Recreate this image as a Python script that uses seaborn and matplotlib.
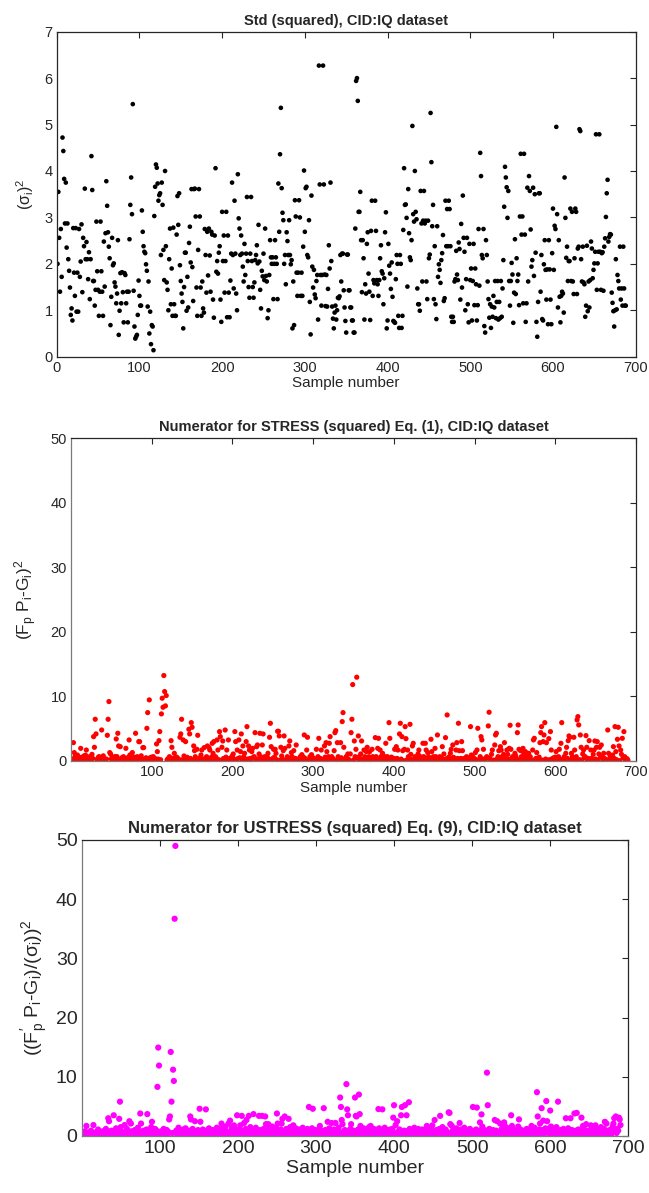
import numpy as np
import pandas as pd
import matplotlib
matplotlib.use("Agg")
import matplotlib.pyplot as plt
import seaborn as sns

# ---------------- data ----------------
# Panel 1: std squared, blocks in sample order
std_sq_a = [2.0, 3.55, 2.56, 1.40, 2.75, 1.72, 4.72, 4.43, 3.83, 2.87,
            3.75, 2.35, 2.87, 2.1, 1.85, 1.49, 0.9, 1.04, 0.78, 2.77,
            1.81, 1.31, 2.77, 0.97, 1.81, 0.97, 2.75, 1.72, 2.05, 2.85,
            1.39, 2.56, 2.38, 3.62, 2.1, 2.47, 2.1, 1.67, 2.25, 1.24,
            2.1, 4.32, 3.59, 1.63, 1.63, 1.1, 1.44, 2.91, 1.84, 1.44,
            0.88, 1.4, 2.91, 1.84, 1.4, 0.88, 2.48, 1.51, 2.66, 3.78,
            3.25, 2.68, 2.37, 2.12, 0.68, 1.29, 2.56, 1.97, 2.01, 1.6,
            1.51, 1.15, 1.36, 2.51, 0.47, 0.99, 1.8, 1.15, 1.82, 1.39,
            0.74, 1.8, 1.76, 1.15, 1.4, 0.74, 1.4, 2.53, 3.27, 3.86,
            3.07, 5.44, 1.42, 0.65, 0.39, 0.43, 0.47, 0.9, 1.64, 1.31]
std_sq_b = [1.1, 1.1, 3.15, 2.69, 2.38, 2.26, 2.23, 1.99, 1.85, 1.08,
            1.62, 0.5, 0.97, 0.27, 0.68, 0.65, 0.14, 3.03, 3.66, 4.14,
            4.07, 3.73, 3.36, 3.48, 3.52, 2.19, 3.75, 3.27, 2.3, 1.65,
            4.0, 2.38, 1.6, 1.44, 1.0, 2.1, 2.76, 1.13, 1.9, 0.88,
            2.78, 1.13, 0.88, 0.88, 2.63, 3.46, 2.84, 3.52, 1.97, 1.63,
            1.36, 1.18, 0.61, 1.5, 2.24, 2.24, 0.99, 1.72, 1.06, 2.45,
            2.8, 2.03, 3.61, 1.93, 1.2, 3.61, 3.62, 3.02, 1.49, 0.88,
            2.3, 3.61, 3.02, 1.49, 0.88, 1.62, 1.04, 0.95, 2.75, 2.19,
            1.38, 2.69, 1.75, 2.76, 2.18]
std_sq_c = [1.4, 2.69, 2.63, 1.23, 0.84, 2.61, 4.06, 1.83,
            2.06, 1.79, 2.24, 2.38, 1.23, 0.75, 3.12, 2.06, 2.61, 1.38,
            2.06, 3.12, 0.85, 2.61, 1.38, 0.85, 1.64, 2.22, 3.75, 2.19,
            1.47, 3.36, 2.22, 1.36, 1.0, 3.93, 2.98, 2.76, 2.19, 2.61,
            2.22, 1.94, 1.62, 2.43, 1.76, 2.22, 3.44, 2.06, 1.5, 1.27,
            2.22, 3.44, 2.06, 1.5, 1.27, 1.6, 2.08, 2.19, 2.4, 2.01,
            2.84, 2.05, 1.44, 1.04, 1.85, 1.73, 2.22, 1.65, 2.76, 1.74,
            1.62, 0.83, 1.0, 1.76, 2.51, 2.14, 2.0, 2.14, 1.24, 2.0,
            2.51, 2.14, 2.0, 1.24, 3.73, 2.69, 4.36, 5.36, 3.63, 3.1,
            2.94, 2.0, 2.19, 1.56, 2.68, 2.49, 2.19, 2.94, 2.19, 1.99, 2.08,
            0.61, 1.62, 0.68, 3.37, 3.02, 1.81, 1.31, 1.81, 3.37, 3.0,
            1.31, 1.81, 1.31, 2.37, 4.01, 2.69, 3.63, 3.66, 2.19, 2.14,
            2.94, 1.18, 0.48, 3.47, 1.94, 1.49, 1.87, 1.34, 1.26, 1.63,
            1.76, 0.8, 6.27, 3.71, 1.76, 1.1, 1.76, 6.27, 3.71, 1.77,
            1.09, 1.76, 1.08, 1.46, 2.4, 1.9, 3.75, 2.06, 1.08, 0.82,
            0.61, 0.95, 1.1, 0.8, 1.0, 1.27, 1.26, 1.3, 2.19, 1.62, 2.22,
            2.22, 1.43, 1.06, 0.77, 0.52]
std_sq_d = [2.2, 2.2, 1.43, 1.43, 1.06, 1.06, 0.78, 0.78, 0.52, 0.52,
            2.76, 5.94, 6.0, 5.51, 3.12, 3.12, 3.55, 2.51, 1.39, 2.51,
            2.12, 0.8, 1.56, 1.36, 2.43, 2.68, 1.79, 1.4, 0.79, 2.71,
            3.36, 1.31, 1.65, 1.58, 3.36, 2.71, 1.65, 1.56, 1.31, 1.65,
            2.12, 2.4, 1.84, 1.79, 1.13, 1.69, 2.68, 3.11, 0.61, 0.78,
            2.43, 1.96, 1.79, 1.46, 2.03, 1.29, 0.77, 0.75, 0.73, 1.67,
            2.19, 2.0, 0.88, 0.62, 2.19, 2.0, 0.62, 0.88, 2.73, 4.06,
            3.27, 3.28, 2.99, 1.51, 3.61, 2.66, 2.14, 2.08, 2.51, 4.97,
            3.07, 2.91, 4.0, 3.12, 2.96, 1.47, 1.13, 1.13, 0.99, 3.57,
            2.87, 1.62, 2.93, 3.57, 2.87, 2.93, 1.62, 1.24, 2.93, 2.12,
            2.2, 5.25, 4.19, 2.81, 3.27, 1.24, 2.38, 1.13, 0.81, 2.81,
            1.72, 1.99, 1.87, 1.59, 2.08, 2.23, 2.62, 1.2, 1.26, 3.36,
            2.38, 3.18, 2.38, 3.36, 3.18, 2.38, 0.86, 0.75, 0.86, 0.75,
            1.62, 1.67, 2.28, 1.77, 1.65, 2.46, 2.32, 1.23, 2.86, 1.49,
            3.47, 2.56, 2.26, 1.0, 1.67, 2.56, 1.13, 0.74, 2.43, 1.65,
            1.9, 0.78, 1.63, 2.43, 1.11, 1.9, 1.56, 0.78, 1.11, 2.75,
            1.53, 4.39, 3.89, 2.19, 2.12, 2.75, 0.66, 0.52, 2.51, 2.19,
            1.62, 1.24, 0.84, 1.13, 0.62, 1.08]
std_sq_e = [0.86, 1.31, 1.06, 1.63, 0.83, 1.18, 1.63, 0.8, 1.18,
            0.83, 1.63, 0.86, 1.47, 2.08, 3.23, 4.09, 3.86, 3.65,
            2.99, 3.57, 1.63, 1.1, 1.63, 2.02, 1.77, 0.73, 1.38,
            2.53, 1.35, 2.12, 1.63, 1.77, 1.11, 3.02, 4.37, 2.63,
            3.02, 1.15, 4.37, 2.63, 0.75, 1.15, 3.64, 1.62, 3.89,
            3.57, 2.74, 1.94, 2.08, 3.64, 1.74, 3.5, 2.24, 0.75,
            0.43, 1.18, 3.52, 3.52, 1.4, 2.19, 0.81, 0.78, 1.99,
            2.51, 1.87, 1.23, 1.88, 0.7, 2.51, 1.88, 1.23, 0.7,
            2.23, 3.19, 1.87, 2.82, 2.75, 4.95, 3.07, 1.06, 2.51,
            1.29, 0.74, 1.31, 1.4, 1.36, 0.95, 3.86, 2.99, 2.13,
            2.37, 1.63, 2.06, 2.06, 3.19, 1.63, 3.12, 1.62, 1.35,
            2.12, 3.19, 3.12, 1.35, 2.33, 2.37, 4.9, 4.86, 2.1,
            1.62, 2.37, 1.6, 1.56, 0.86, 1.1, 2.39, 0.98, 1.62,
            1.06, 1.65, 2.48, 2.33, 1.69, 1.87, 2.01, 2.26, 4.79,
            1.44, 2.01, 2.26, 4.79, 2.26, 1.44, 2.23, 2.25, 1.42,
            2.37, 2.55, 3.01, 3.52, 3.81, 2.48, 2.58, 2.64, 2.63,
            1.38, 1.16, 0.98, 0.65, 1.0, 2.1, 1.02, 1.76, 1.63,
            1.47, 2.37, 1.23, 1.47, 1.1, 2.37, 1.47, 1.1, 1.1]

# Panel 2: numerator for STRESS (squared)
stress_1 = [0.1, 0.3, 2.84, 1.3, 0.67, 0.4, 0.1, 0.93, 0.15, 0.5, 0.2,
            1.96, 0.57, 0.2, 0.05, 0.78, 0.4, 0.9, 1.7, 0.1, 0.3, 0.45,
            0.67, 0.2, 0.05, 1.03, 0.4, 3.77, 2.12, 6.46, 4.19, 0.25, 0.1,
            0.6, 0.67, 0.35, 0.1, 4.8, 0.25, 0.8, 0.4, 0.25, 0.1, 0.3,
            3.98, 6.46, 9.2, 1.3, 1.09, 0.3, 0.67, 0.35, 0.05, 0.15, 0.7,
            3.41, 0.67, 4.29, 2.33, 0.2, 2.22, 0.15, 0.5, 0.35, 0.67, 0.2,
            0.1, 1.96, 0.15, 0.4, 0.57, 3.26, 0.93, 0.2, 0.35, 1.3, 0.05,
            0.6, 0.15, 4.29, 0.3, 0.67, 0.1, 3.0, 3.0, 0.4, 0.8, 0.25,
            2.07, 2.07, 0.25, 0.1, 0.5, 5.06, 7.49, 0.3, 9.46, 0.5, 0.15, 0.6]
stress_2 = [0.5, 0.67, 0.15, 0.4, 0.1, 2.64, 1.45, 0.3, 3.15, 4.55,
            0.2, 7.29, 9.72, 8.32, 13.23, 10.75, 8.53, 10.13, 0.15, 0.35,
            0.05, 0.67, 0.3, 3.15, 2.12, 0.4, 0.1, 1.19, 0.5, 0.15,
            0.6, 0.25, 0.35, 0.1, 3.67, 4.19, 6.46, 0.2, 3.26, 0.78,
            0.3, 3.0, 0.25, 0.57, 0.1, 4.91, 4.19, 0.4, 5.94, 5.22,
            0.15, 2.33, 1.6, 0.67, 0.3, 1.81, 3.98, 0.15, 0.15, 0.5,
            0.93, 1.7, 0.2, 0.15, 2.07, 0.4, 0.05, 0.67, 2.33, 0.3,
            2.07, 1.7, 0.15, 0.6, 2.74, 1.19, 3.0, 0.1, 0.67, 0.45,
            3.26, 1.7, 0.2, 4.55, 3.77, 0.1, 2.12, 3.1, 0.4, 0.25,
            4.8, 0.6, 1.7, 0.1, 3.26, 0.35, 0.05, 0.5, 0.2, 0.8]
stress_3 = [1.09, 0.3, 4.55, 3.0, 0.1, 1.7, 0.4, 3.26, 0.5, 1.45,
            4.19, 0.2, 2.33, 0.67, 1.19, 0.05, 3.0, 5.32, 0.3, 2.33,
            1.7, 0.4, 0.15, 1.45, 1.96, 0.6, 0.67, 4.39, 0.1, 2.22,
            2.48, 0.35, 1.09,
            4.29, 0.67, 0.2, 2.48, 4.19, 0.1, 0.67, 0.15, 0.4, 0.67,
            1.19, 0.3, 3.67, 5.84, 2.22, 0.05, 0.4, 1.81, 0.6, 1.81,
            1.19, 0.2, 4.6, 4.6, 3.88, 0.1, 2.12, 0.78, 0.35, 1.6,
            3.88, 1.96, 0.05, 0.15, 0.67, 0.5, 2.33, 3.1, 0.2, 1.3,
            0.67, 0.1, 1.6, 0.15, 0.4, 2.48, 0.05, 0.15, 0.3, 0.25,
            0.67, 0.1, 0.98, 0.15, 0.6, 4.03, 0.4, 0.2, 1.7, 3.67,
            0.05, 0.15, 0.67, 0.3, 0.98, 0.1, 0.5]
stress_4 = [0.15, 0.3, 0.25, 1.81, 0.1, 0.67, 3.51, 0.15, 0.4, 1.7,
            0.25, 0.05, 0.15, 2.33, 0.6, 2.84, 1.45, 0.2, 0.67, 2.74,
            3.77, 0.1, 0.67, 0.15, 0.35, 1.6, 4.39, 4.7, 0.05, 2.84,
            0.67, 0.2, 0.15, 2.84, 0.5, 6.1, 7.49, 2.12, 0.1, 0.25,
            0.67, 0.3, 1.09, 0.25, 0.05, 1.09, 4.39, 6.46, 11.83, 0.15,
            3.1, 0.67, 1.81, 12.97, 0.4, 3.88, 0.67, 0.1, 1.09, 3.1,
            0.25, 0.2, 1.7, 0.67, 0.05, 1.45, 2.12, 0.3, 0.67, 1.45,
            0.15, 0.1, 1.81, 0.67, 0.25, 0.5, 3.62, 0.67, 0.15, 1.96,
            3.51, 0.3, 1.7, 0.67, 0.05, 1.19, 0.15, 0.2, 0.67, 2.74,
            0.1, 0.67, 0.35, 5.94, 3.51, 0.15, 0.6, 0.25, 0.05, 0.4]
stress_5 = [1.81, 0.2, 2.22, 0.4, 1.7, 0.1, 4.19, 5.84, 0.3, 3.77,
            1.6, 0.05, 1.81, 5.32, 3.46, 0.15, 1.7, 0.67, 0.4, 5.68,
            1.03, 0.2, 2.33, 2.74, 0.05, 0.67, 0.25, 0.15, 0.5, 1.09,
            1.7, 0.1, 0.67, 0.25, 0.3, 2.74, 0.67, 0.05, 2.74, 1.7,
            0.2, 1.3, 0.67, 0.1, 0.25, 3.36, 1.45, 0.4, 0.67, 0.15,
            1.96, 0.67, 0.3, 4.03, 0.15, 0.05, 0.67, 0.25, 0.5, 2.22,
            0.1, 1.09, 0.2, 3.62, 0.35, 7.13, 0.05, 0.6, 0.15,
            1.19, 1.81, 0.3, 2.48, 0.57, 0.15, 0.1, 1.7, 2.84, 0.4,
            5.84, 1.6, 0.2, 0.4, 3.0, 1.6, 0.05, 0.4, 0.25, 0.3,
            0.67, 0.15, 0.5, 0.25, 0.1, 5.32, 0.93, 0.2, 0.6, 0.15, 0.35]
stress_6 = [1.3, 0.2, 1.7, 5.06, 0.15, 0.05, 0.67, 3.77, 3.26, 0.3,
            1.81, 0.25, 0.1, 0.4, 0.67, 0.5, 5.43, 7.55, 0.4, 0.15,
            1.03, 1.7, 0.05, 0.15, 2.48, 4.03, 4.29, 0.3, 0.67, 1.6,
            0.1, 2.22, 1.7, 0.67, 0.2, 1.03, 2.84, 0.4, 0.05, 1.7,
            1.03, 0.3, 1.96, 5.53, 1.81, 0.15, 0.67, 0.25, 0.1, 1.19,
            0.78, 0.4, 4.39, 5.58, 1.81, 0.05, 1.6, 0.67, 0.2, 1.96,
            1.09, 0.3, 1.45, 0.67, 0.1, 0.25, 1.19, 0.5, 0.67, 0.15,
            0.05, 1.7, 3.26, 3.51, 0.2, 0.4, 1.3, 0.1, 0.25, 0.6,
            2.84, 4.39, 5.32, 0.15, 3.0, 4.03, 5.94, 0.3, 2.84, 0.15,
            0.05, 3.46, 0.2, 4.55, 1.7, 0.35, 0.1, 0.5, 0.25, 0.6]
stress_7 = [1.45, 0.25, 0.1, 0.67, 1.81, 0.3, 2.74, 5.94, 0.05, 0.25,
            0.67, 0.2, 1.19, 2.12, 0.4, 3.15, 3.88, 3.67, 0.1, 1.19,
            0.67, 0.3, 3.67, 1.7, 0.05, 0.67, 6.36, 6.87, 5.58, 0.2,
            4.03, 2.12, 0.15, 1.09, 1.7, 0.5, 0.67, 3.93, 2.12, 0.1,
            0.4, 3.15, 0.25, 1.7, 0.4, 0.05, 1.03, 1.7, 3.1, 0.3,
            2.12, 3.0, 0.15, 1.09, 2.12, 0.6, 2.48, 0.67, 0.1, 1.19,
            0.4, 0.25, 0.15, 0.05, 4.8, 1.19, 0.3, 0.67, 0.25, 0.1,
            0.93, 2.22, 0.4, 5.32, 1.45, 0.2, 3.36, 5.22, 2.33, 0.05,
            1.7, 1.03, 3.51, 0.5, 4.55, 0.67, 0.15, 0.25, 0.35, 0.1]

# Panel 3: numerator for USTRESS (squared)
ustress_1 = [0.2, 0.5, 0.1, 0.8, 0.3, 1.7, 0.4, 0.1, 0.6, 0.2,
             0.3, 0.9, 0.1, 0.4, 1.85, 0.2, 0.5, 0.1, 0.7, 0.3,
             1.1, 0.2, 0.4, 0.1, 0.6, 0.3, 0.8, 0.2, 0.1, 0.5,
             1.2, 0.3, 0.6, 3.0, 2.5, 0.2, 0.4, 0.9, 0.1, 0.3,
             3.5, 0.6, 0.2, 1.3, 0.4, 0.1, 0.8, 2.9, 5.8, 1.5,
             0.3, 0.7, 0.2, 0.5, 1.85, 0.1, 0.4, 1.2, 0.6, 0.3,
             2.5, 0.2, 2.1, 0.8, 0.1, 0.5, 0.3, 1.0, 0.2, 0.6,
             0.4, 1.4, 0.1, 0.7, 3.8, 2.1, 0.3, 0.5, 0.9, 0.2,
             0.6, 0.1, 1.1, 3.7, 0.4, 0.3, 0.8, 0.2, 1.5, 2.4,
             0.5, 0.7, 0.1, 1.2, 0.3, 0.9, 8.3, 14.94, 11.9, 0.4]
ustress_2 = [0.3, 0.8, 0.1, 0.5, 1.2, 0.2, 0.6, 0.4, 1.0, 0.1,
             0.7, 2.8, 3.3, 14.2, 5.8, 0.5, 11.2, 9.3, 36.7, 49.0,
             0.9, 0.3, 0.1, 1.4, 0.6, 0.2, 0.8, 0.4, 0.1, 1.1,
             0.3, 0.5, 1.3, 0.2, 0.7, 0.1, 0.9, 0.4, 3.3, 2.8,
             0.6, 1.2, 0.2, 0.5, 2.5, 0.3, 0.8, 0.1, 1.0, 0.4,
             4.6, 2.4, 0.3, 0.7, 1.1, 0.2, 0.5, 0.9, 4.5, 0.1,
             0.6, 0.3, 1.3, 0.2, 0.8, 0.4, 0.1, 1.0, 0.5, 0.3,
             0.7, 0.2, 1.4, 0.6, 0.1, 0.9, 0.4, 1.2, 2.1, 0.3,
             0.5, 1.0, 0.2, 1.6, 0.8, 0.1, 0.4, 2.1, 0.6, 2.6,
             0.3, 1.3, 0.2, 0.7, 1.8, 0.5, 0.1, 1.1, 3.5, 0.4]
ustress_3 = [0.4, 1.0, 1.8, 0.2, 3.4, 0.6, 0.9, 2.2, 0.3, 1.2,
             2.7, 0.5, 0.1, 3.4, 0.8, 1.5, 0.3, 0.7, 1.1, 3.7,
             0.2, 0.6, 1.4, 0.4, 0.9, 0.1, 3.4, 1.0, 0.5, 0.3,
             3.4, 0.8, 1.2, 0.2, 3.3, 2.0, 0.6, 0.4, 2.0, 1.3,
             0.2, 0.9, 0.5, 1.6, 0.1, 0.7, 1.0, 0.3, 1.4, 3.8,
             2.1, 0.4, 0.8, 0.2, 1.1, 2.1, 2.9, 0.5, 0.6, 3.3,
             0.3, 1.2, 0.1, 0.9, 2.9, 0.4, 1.5, 0.2, 0.7, 1.0,
             1.8, 0.3, 0.6, 1.3, 0.2, 0.8, 0.4, 1.1, 0.1, 0.5,
             0.9, 0.3, 1.4, 0.2, 0.7, 1.0, 0.4, 0.6, 1.2, 0.2,
             4.9, 0.5, 0.8, 0.3, 1.3, 4.6, 0.1, 0.6, 1.0, 0.4]
ustress_4 = [0.3, 0.8, 0.2, 1.2, 1.7, 0.5, 0.1, 0.9, 0.4, 4.7,
             0.6, 1.0, 0.2, 0.7, 2.4, 0.3, 1.3, 0.1, 0.5, 2.2,
             0.8, 0.4, 1.1, 0.2, 2.2, 0.6, 0.9, 0.3, 1.4, 0.5,
             6.5, 4.9, 2.7, 2.0, 0.7, 0.2, 1.0, 0.4, 8.76, 4.5,
             3.5, 0.3, 0.8, 1.2, 2.0, 0.1, 0.6, 0.9, 0.4, 6.5,
             3.4, 3.3, 0.2, 1.1, 7.0, 3.7, 1.7, 0.5, 0.3, 0.8,
             1.3, 0.1, 0.6, 0.4, 1.0, 0.2, 0.7, 1.5, 0.3, 1.7,
             0.5, 0.9, 0.2, 1.2, 0.4, 0.1, 0.8, 0.6, 1.1, 4.55,
             1.3, 0.3, 0.7, 0.2, 4.5, 0.9, 0.4, 1.4, 0.1, 0.6,
             0.3, 1.0, 0.5, 0.2, 1.1, 0.8, 0.4, 1.2, 3.1, 5.2]
ustress_5 = [0.4, 1.85, 0.2, 2.5, 0.7, 0.3, 1.1, 0.5, 3.5, 4.9,
             0.6, 0.2, 0.9, 5.2, 0.4, 3.5, 0.8, 0.1, 5.7, 1.2,
             0.3, 0.6, 1.0, 0.2, 0.5, 1.4, 0.1, 0.7, 0.3, 0.9,
             1.2, 0.4, 0.2, 0.8, 0.5, 1.1, 0.1, 0.6, 0.3, 1.0,
             0.4, 1.7, 0.2, 0.9, 0.6, 0.3, 1.3, 0.1, 1.8, 0.5,
             0.7, 2.7, 0.2, 1.0, 0.4, 0.8, 0.1, 1.2, 3.4, 0.3,
             0.6, 1.5, 0.2, 0.9, 0.4, 1.1, 0.3, 0.7, 0.5, 4.0,
             3.9, 2.0, 0.3, 1.7, 0.8, 0.1, 1.0, 0.5, 0.2, 1.3,
             0.6, 0.4, 0.9, 2.2, 0.3, 1.1, 0.1, 0.7, 0.5, 1.4,
             0.2, 0.8, 0.4, 1.0, 0.3, 0.6, 1.2, 0.1, 0.5, 0.9]
ustress_6 = [4.9, 0.3, 0.8, 0.2, 1.1, 4.8, 0.5, 0.1, 0.9, 2.3,
             0.4, 3.65, 1.6, 0.7, 0.2, 1.0, 0.3, 0.6, 10.7, 5.2,
             0.4, 1.2, 0.1, 0.8, 0.3, 0.6, 1.0, 0.2, 2.7, 0.5,
             0.9, 2.5, 0.3, 0.1, 0.7, 2.1, 0.4, 1.2, 0.2, 0.6,
             2.3, 1.7, 0.5, 0.9, 0.1, 0.4, 1.3, 0.3, 0.8, 3.5,
             1.7, 0.2, 0.6, 1.0, 0.4, 0.1, 0.7, 0.3, 1.6, 2.8,
             0.5, 1.1, 0.2, 0.8, 0.4, 0.1, 0.9, 0.6, 0.3, 1.2,
             0.5, 0.2, 1.0, 0.7, 0.4, 1.7, 0.3, 0.9, 0.6, 1.4,
             0.2, 0.8, 7.4, 3.3, 0.5, 1.1, 2.1, 0.4, 4.7, 1.0,
             2.6, 0.3, 0.7, 1.3, 5.9, 2.5, 0.6, 1.2, 0.4, 4.3]
ustress_7 = [1.6, 0.4, 0.9, 0.2, 1.1, 0.6, 0.3, 1.5, 0.8, 5.8,
             0.5, 0.2, 1.0, 0.4, 0.7, 0.1, 1.2, 0.3, 0.9, 3.0,
             0.6, 0.2, 1.3, 0.5, 0.8, 3.0, 0.3, 1.0, 0.4, 0.6,
             3.8, 0.2, 0.9, 3.9, 0.5, 1.1, 0.3, 0.7, 0.4, 3.1,
             0.8, 1.7, 0.2, 0.6, 1.0, 2.0, 0.4, 0.1, 0.9, 0.3,
             0.7, 1.8, 0.5, 0.2, 1.1, 0.4, 0.8, 1.8, 0.3, 0.6,
             1.0, 0.2, 0.5, 0.9, 1.5, 0.4, 0.7, 0.1, 1.2, 2.4,
             0.6, 2.1, 0.3, 0.8, 0.5, 1.0, 0.2, 0.7, 0.4, 1.6,
             2.1, 3.0, 0.8, 3.3, 0.5, 1.2, 0.9, 3.1, 2.8, 1.85]

x_ticks_top = [0, 100, 200, 300, 400, 500, 600, 700]
x_ticks_low = [100, 200, 300, 400, 500, 600, 700]
y_ticks_top = [0, 1, 2, 3, 4, 5, 6, 7]
y_ticks_low = [0, 10, 20, 30, 40, 50]

# ---------------- style ----------------
sns.set_theme(style="white")
plt.rcParams['font.family'] = ['Liberation Sans', 'DejaVu Sans']
plt.rcParams['mathtext.fontset'] = 'custom'
plt.rcParams['mathtext.rm'] = 'Liberation Sans'
plt.rcParams['mathtext.it'] = 'Liberation Sans'
plt.rcParams['mathtext.bf'] = 'Liberation Sans:bold'


def frame(blocks):
    v = np.concatenate([np.asarray(b, dtype=float) for b in blocks])
    return pd.DataFrame({"sample": np.arange(1, len(v) + 1), "value": v})


std_df = frame([std_sq_a, std_sq_b, std_sq_c, std_sq_d, std_sq_e])
stress_df = frame([stress_1, stress_2, stress_3, stress_4, stress_5, stress_6, stress_7])
ustress_df = frame([ustress_1, ustress_2, ustress_3, ustress_4, ustress_5, ustress_6, ustress_7])

W, H = 649, 1193
fig = plt.figure(figsize=(W / 100, H / 100), dpi=100)


def add_ax(left, top, right, bottom):
    return fig.add_axes([left / W, 1 - bottom / H, (right - left) / W, (bottom - top) / H])


def style_axes(ax, fs, spine_tr='#262626', spine_lb='#262626'):
    ax.tick_params(direction='in', top=True, right=True, length=4, width=0.8,
                   labelsize=fs, colors='#262626', pad=3)
    for side in ['top', 'right']:
        ax.spines[side].set_color(spine_tr)
        ax.spines[side].set_linewidth(0.9)
    for side in ['left', 'bottom']:
        ax.spines[side].set_color(spine_lb)
        ax.spines[side].set_linewidth(0.9)
    ax.grid(False)


# Panel 1
ax1 = add_ax(56.7, 31.7, 635.7, 356.7)
sns.scatterplot(data=std_df, x="sample", y="value", ax=ax1, color='black',
                s=11, linewidth=0, edgecolor='none')
ax1.set_xlim(0, 700)
ax1.set_ylim(0, 7)
ax1.set_xticks(x_ticks_top)
ax1.set_yticks(y_ticks_top)
style_axes(ax1, 10.5)
ax1.set_title("Std (squared), CID:IQ dataset", fontsize=10.5, fontweight='bold', pad=5)
ax1.set_xlabel("Sample number", fontsize=11, labelpad=1)
ax1.set_ylabel(r"($\sigma_\mathrm{i}$)$^2$", fontsize=11.5, labelpad=6)

# Panel 2
ax2 = add_ax(71, 438, 636, 761)
sns.scatterplot(data=stress_df, x="sample", y="value", ax=ax2, color=(1, 0, 0),
                s=14, linewidth=0, edgecolor='none')
ax2.set_xlim(0, 700)
ax2.set_ylim(0, 50)
ax2.set_xticks(x_ticks_low)
ax2.set_yticks(y_ticks_low)
style_axes(ax2, 10.5, spine_lb='#7a7a7a')
ax2.set_title("Numerator for STRESS (squared) Eq. (1), CID:IQ dataset",
              fontsize=10.5, fontweight='bold', pad=5)
ax2.set_xlabel("Sample number", fontsize=11, labelpad=1)
ax2.set_ylabel(r"(F$_\mathrm{p}$ P$_\mathrm{i}$-G$_\mathrm{i}$)$^2$", fontsize=12.5, labelpad=8)

# Panel 3
ax3 = add_ax(81.7, 840, 628.3, 1136)
sns.scatterplot(data=ustress_df, x="sample", y="value", ax=ax3, color=(1, 0, 1),
                s=20, linewidth=0, edgecolor='none')
ax3.set_xlim(0, 700)
ax3.set_ylim(0, 50)
ax3.set_xticks(x_ticks_low)
ax3.set_yticks(y_ticks_low)
style_axes(ax3, 14, spine_lb='#7a7a7a')
ax3.set_title("Numerator for USTRESS (squared) Eq. (9), CID:IQ dataset",
              fontsize=12, fontweight='bold', pad=5)
ax3.set_xlabel("Sample number", fontsize=14, labelpad=2)
ax3.set_ylabel(r"((F$^{\prime}_\mathrm{p}$ P$_\mathrm{i}$-G$_\mathrm{i}$)/($\sigma_\mathrm{i}$))$^2$",
               fontsize=14, labelpad=4)

fig.savefig("out.png", dpi=100)
